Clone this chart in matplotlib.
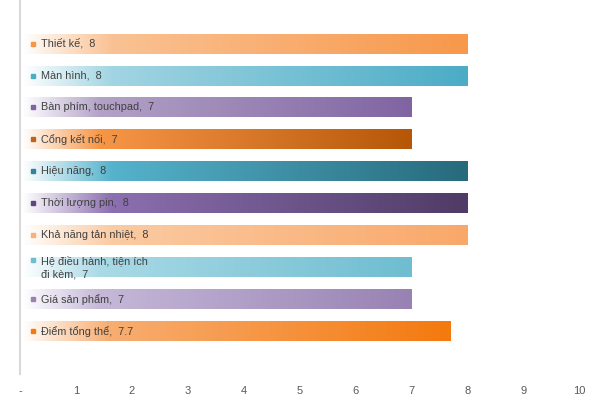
import matplotlib
matplotlib.use("Agg")
import matplotlib.pyplot as plt
import matplotlib.transforms as mtransforms
import numpy as np
from matplotlib.colors import LinearSegmentedColormap

plt.rcParams["font.family"] = ["Liberation Sans", "DejaVu Sans"]

categories = [
    "Thiết kế",
    "Màn hình",
    "Bàn phím, touchpad",
    "Cổng kết nối",
    "Hiệu năng",
    "Thời lượng pin",
    "Khả năng tản nhiệt",
    "Hệ điều hành, tiện ích\nđi kèm",
    "Giá sản phẩm",
    "Điểm tổng thể",
]
scores = [8, 8, 7, 7, 8, 8, 8, 7, 7, 7.7]
tick_values = [0, 1, 2, 3, 4, 5, 6, 7, 8, 9, 10]
tick_labels = ["-", "1", "2", "3", "4", "5", "6", "7", "8", "9", "10"]

# gradient stops (left -> mid -> right) per bar
gradients = [
    ("#FFFFFF", "#FAC294", "#F7984A"),
    ("#FFFFFF", "#A2D5E3", "#4BACC6"),
    ("#FFFFFF", "#B3A2C7", "#8064A2"),
    ("#FFFFFF", "#F79646", "#B65708"),
    ("#FFFFFF", "#55B3CC", "#276A7C"),
    ("#FFFFFF", "#8C6FB0", "#4F3B66"),
    ("#FFFFFF", "#FBCBA3", "#F9A86A"),
    ("#FFFFFF", "#A9DAE6", "#6FBDD1"),
    ("#FFFFFF", "#C5B8D8", "#9882B4"),
    ("#FFFFFF", "#F8AE72", "#F4790E"),
]
markers = ["#F79646", "#4BACC6", "#8064A2", "#C0631C", "#31849B",
           "#5F497A", "#FAB07A", "#6FBDD1", "#9882B4", "#F47A0F"]

fig = plt.figure(figsize=(6.0, 3.99), dpi=100)
ax = fig.add_axes([20 / 600, 25 / 399, 559 / 600, 374 / 399])

bar_h = 0.625
grad = np.linspace(0, 1, 256).reshape(1, -1)
for i, (val, stops) in enumerate(zip(scores, gradients)):
    cmap = LinearSegmentedColormap.from_list(
        f"g{i}", [(0, stops[0]), (0.2, stops[1]), (1, stops[2])])
    ax.imshow(grad, cmap=cmap, aspect="auto", interpolation="bilinear",
              extent=[0.03, val, i + bar_h / 2, i - bar_h / 2], zorder=2)

ax.set_xlim(0, 10)
ax.set_ylim(10.33, -1.36)

for i, (name, val) in enumerate(zip(categories, scores)):
    label = f"{name},  {val:g}"
    n_lines = name.count("\n") + 1
    dy = 7 * (n_lines - 1)
    tr = mtransforms.offset_copy(ax.transData, fig, x=13, y=dy, units="dots")
    ax.plot([0], [i], marker="s", ms=3.5, color=markers[i], transform=tr,
            zorder=4, clip_on=False)
    ax.annotate(label, xy=(0, i), xytext=(21, 0), textcoords="offset pixels",
                ha="left", va="center", fontsize=7.8, color="#404040",
                linespacing=1.5, zorder=5)

ax.set_xticks(tick_values)
ax.set_xticklabels(tick_labels)
ax.set_yticks([])
ax.tick_params(axis="x", length=0, pad=9, labelsize=8, labelcolor="#595959")
for side in ["top", "right", "bottom"]:
    ax.spines[side].set_visible(False)
ax.spines["left"].set_color("#D9D9D9")
ax.spines["left"].set_linewidth(1.5)

fig.savefig("out.png", dpi=100)
